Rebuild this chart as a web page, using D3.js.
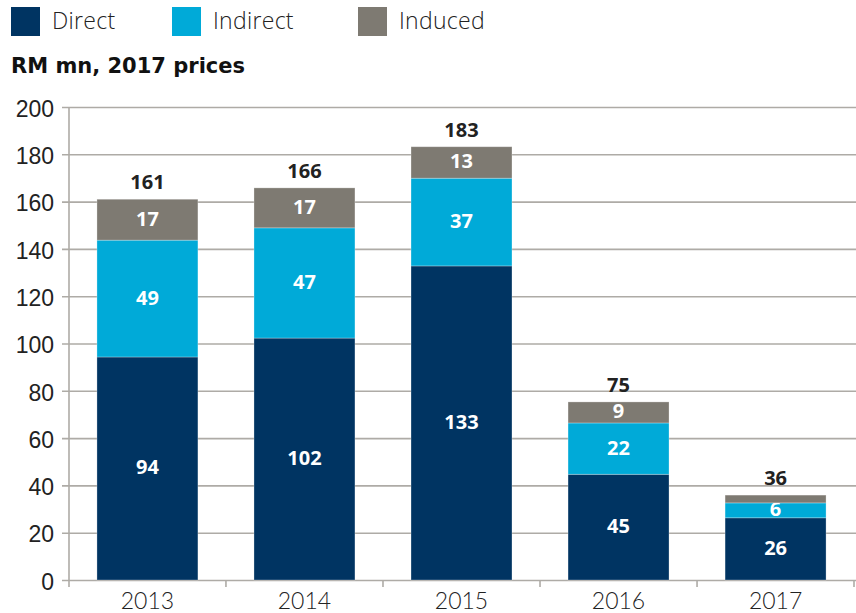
<!DOCTYPE html>
<html>
<head>
<meta charset="utf-8">
<script src="https://cdn.jsdelivr.net/npm/d3@7"></script>
<style>
  body { margin: 0; background: #fff; }
  svg { font-family: Lato, "Open Sans", sans-serif; }
</style>
</head>
<body>
<svg id="chart" width="856" height="613"></svg>
<script>
// values (RM mn, 2017 prices)
const years = ["2013", "2014", "2015", "2016", "2017"];
const direct = [94.3, 102.3, 132.8, 44.7, 26.3];
const indirect = [49.4, 46.6, 37.1, 21.7, 6.3];
const induced = [17.3, 16.9, 13.3, 8.9, 3.3];
const yTicks = [0, 20, 40, 60, 80, 100, 120, 140, 160, 180, 200];

const series = ["Direct", "Indirect", "Induced"];
const colors = ["#003462", "#00aad8", "#7e7a72"];

const rows = years.map((yr, i) => ({
    year: yr,
    Direct: direct[i],
    Indirect: indirect[i],
    Induced: induced[i]
}));

const svg = d3.select("#chart");
const gridColor = "#aeaba6";

const x = d3.scaleBand()
    .domain(years)
    .range([69, 854])
    .paddingInner(0.357)
    .paddingOuter(0.178);

const y = d3.scaleLinear()
    .domain([0, 200])
    .range([580, 107]);

const color = d3.scaleOrdinal().domain(series).range(colors);

// gridlines + y labels
const yAxis = svg.append("g")
    .attr("transform", "translate(69,0)")
    .call(d3.axisLeft(y).tickValues(yTicks).tickSize(7).tickPadding(8).tickFormat(d3.format("d")));
yAxis.select(".domain").remove();
yAxis.selectAll(".tick line")
    .attr("x2", 856 - 69)
    .attr("x1", -7)
    .attr("stroke", gridColor)
    .attr("stroke-width", 1.6);
yAxis.selectAll(".tick text")
    .attr("fill", "#222")
    .attr("dy", "0.4em")
    .style("font-size", "23px")
    .style("font-weight", 300);

// y axis line
svg.append("line")
    .attr("x1", 69).attr("x2", 69)
    .attr("y1", y(200)).attr("y2", 587)
    .attr("stroke", gridColor)
    .attr("stroke-width", 1.6);

// bottom ticks at band boundaries
const bounds = years.map(d => x(d) - x.step() * x.paddingInner() / 2).slice(1);
bounds.push(854);
svg.append("g").selectAll("line")
    .data(bounds)
    .join("line")
    .attr("x1", d => d).attr("x2", d => d)
    .attr("y1", 580).attr("y2", 587)
    .attr("stroke", gridColor)
    .attr("stroke-width", 1.6);

// x labels
svg.append("g").selectAll("text")
    .data(years)
    .join("text")
    .attr("x", d => x(d) + x.bandwidth() / 2)
    .attr("y", 609)
    .attr("text-anchor", "middle")
    .attr("fill", "#222")
    .style("font-size", "23px")
    .style("font-weight", 300)
    .text(d => d);

// stacked bars
const stacked = d3.stack().keys(series)(rows);

const layers = svg.append("g").selectAll("g")
    .data(stacked)
    .join("g")
    .attr("fill", d => color(d.key));

layers.selectAll("rect")
    .data(d => d)
    .join("rect")
    .attr("x", d => x(d.data.year))
    .attr("y", d => y(d[1]))
    .attr("width", x.bandwidth())
    .attr("height", d => y(d[0]) - y(d[1]))
    .attr("stroke", "#ffffff")
    .attr("stroke-opacity", 0.35)
    .attr("stroke-width", 0.8);

// segment labels
layers.selectAll("text")
    .data(d => d.filter(s => s[1] - s[0] >= 5))
    .join("text")
    .attr("x", d => x(d.data.year) + x.bandwidth() / 2)
    .attr("y", d => (y(d[0]) + y(d[1])) / 2)
    .attr("dy", "0.3em")
    .attr("text-anchor", "middle")
    .attr("fill", "#fff")
    .style("font-family", "'Open Sans', sans-serif")
    .style("font-size", "20px")
    .style("font-weight", 700)
    .text(d => Math.round(d[1] - d[0]));

// totals
svg.append("g").selectAll("text")
    .data(rows)
    .join("text")
    .attr("x", d => x(d.year) + x.bandwidth() / 2)
    .attr("y", d => y(d.Direct + d.Indirect + d.Induced) - 10)
    .attr("text-anchor", "middle")
    .attr("fill", "#222")
    .style("font-family", "'Open Sans', sans-serif")
    .style("font-size", "20px")
    .style("font-weight", 700)
    .text(d => Math.round(d.Direct + d.Indirect + d.Induced));

// legend
const legendX = [11, 172, 358];
const legend = svg.append("g").selectAll("g")
    .data(series)
    .join("g")
    .attr("transform", (d, i) => `translate(${legendX[i]},7)`);
legend.append("rect")
    .attr("width", 29)
    .attr("height", 29)
    .attr("fill", d => color(d));
legend.append("text")
    .attr("x", 41)
    .attr("y", 22)
    .attr("fill", "#222")
    .style("font-family", "'Open Sans', sans-serif")
    .style("font-size", "23px")
    .style("font-weight", 300)
    .style("letter-spacing", "0.3px")
    .text(d => d);

// unit title
svg.append("text")
    .attr("x", 11)
    .attr("y", 73)
    .attr("fill", "#111")
    .style("font-family", "'DejaVu Sans', sans-serif")
    .style("font-size", "21px")
    .style("font-weight", 700)
    .text("RM mn, 2017 prices");
</script>
</body>
</html>
